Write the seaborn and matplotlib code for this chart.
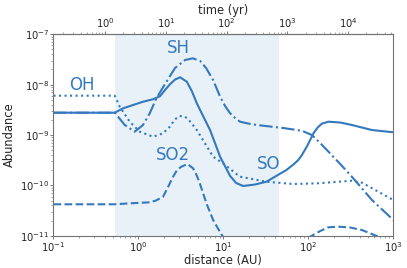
import numpy as np
import matplotlib
matplotlib.use("Agg")
import matplotlib.pyplot as plt
import matplotlib.ticker as mticker
import seaborn as sns

# values, stored as log10(distance AU), log10(abundance)
so_logd = [-1.0, -0.279, -0.181, 0.054, 0.172, 0.254, 0.313, 0.372, 0.430, 0.490,
           0.569, 0.628, 0.687, 0.760, 0.843, 0.961, 1.079, 1.150, 1.232, 1.373,
           1.506, 1.742, 1.821, 1.880, 1.923, 1.986, 2.060, 2.110, 2.159, 2.237,
           2.375, 2.512, 2.748, 3.0]
so_loga = [-8.557, -8.557, -8.470, -8.339, -8.290, -8.230, -8.106, -7.990, -7.900, -7.854,
           -7.941, -8.126, -8.370, -8.620, -8.901, -9.431, -9.814, -9.953, -10.013, -9.983,
           -9.928, -9.695, -9.590, -9.500, -9.400, -9.218, -8.966, -8.850, -8.775, -8.736,
           -8.752, -8.801, -8.901, -8.946]

sh_logd = [-1.0, -0.279, -0.240, -0.161, -0.044, 0.054, 0.133, 0.211, 0.313, 0.431,
           0.549, 0.640, 0.726, 0.796, 0.879, 0.961, 1.020, 1.079, 1.138, 1.197,
           1.291, 1.393, 1.703, 1.923, 2.041, 2.139, 2.237, 2.375, 2.512, 2.748, 3.0]
sh_loga = [-8.557, -8.557, -8.637, -8.801, -8.934, -8.801, -8.569, -8.271, -7.987, -7.669,
           -7.510, -7.477, -7.529, -7.669, -7.908, -8.239, -8.424, -8.569, -8.662, -8.736,
           -8.772, -8.801, -8.861, -8.915, -9.0, -9.159, -9.332, -9.576, -9.828, -10.291, -10.688]

oh_logd = [-1.0, -0.279, -0.220, -0.102, 0.015, 0.172, 0.290, 0.369, 0.430, 0.482,
           0.540, 0.584, 0.687, 0.879, 0.996, 1.193, 1.506, 1.821, 2.115, 2.512,
           2.630, 2.787, 3.0]
oh_loga = [-8.219, -8.219, -8.438, -8.736, -8.934, -9.034, -8.966, -8.835, -8.690, -8.623,
           -8.630, -8.682, -8.901, -9.431, -9.562, -9.828, -9.928, -9.973, -9.959, -9.908,
           -9.947, -10.092, -10.291]

so2_logd = [-1.0, -0.279, -0.099, 0.133, 0.207, 0.290, 0.349, 0.408, 0.455, 0.505,
            0.576, 0.643, 0.684, 0.722, 0.800, 0.879, 0.958, 1.032, 1.3, 1.8,
            1.95, 2.021, 2.139, 2.237, 2.355, 2.492, 2.630, 2.826, 3.0]
so2_loga = [-10.376, -10.376, -10.357, -10.337, -10.301, -10.225, -10.030, -9.828, -9.695, -9.630,
            -9.576, -9.661, -9.795, -9.959, -10.357, -10.688, -10.920, -11.125, -11.8, -11.8,
            -11.3, -11.02, -10.907, -10.833, -10.821, -10.837, -10.887, -11.02, -11.125]

labels = ["SO", "SH", "OH", "SO2"]
label_pos = [(34.3, 2.68e-10), (2.95, 5.3e-8), (0.217, 1.0e-8), (2.58, 4.05e-10)]
shade_range = (0.526, 45.7)
dist_ticks = [0.1, 1, 10, 100, 1000]
abund_ticks = [1e-11, 1e-10, 1e-9, 1e-8, 1e-7]
time_ticks = [1, 10, 100, 1000, 10000]

line_color = "#3479bd"

sns.set_style("ticks")
plt.rcParams["font.family"] = ["DejaVu Sans"]
plt.rcParams["mathtext.fontset"] = "dejavusans"

fig = plt.figure(figsize=(4.07, 2.68), dpi=100)
ax = fig.add_axes([0.1314, 0.1205, 0.835, 0.7515])
ax.set_xscale("log")
ax.set_yscale("log")

ax.axvspan(*shade_range, color="tab:blue", alpha=0.1, lw=0)

series = [(so_logd, so_loga, "-"), (sh_logd, sh_loga, "-."),
          (oh_logd, oh_loga, ":"), (so2_logd, so2_loga, "--")]
for logd, loga, ls in series:
    sns.lineplot(x=10 ** np.array(logd), y=10 ** np.array(loga), ax=ax,
                 color=line_color, lw=1.5, linestyle=ls, sort=False)

for lab, (px, py) in zip(labels, label_pos):
    ax.text(px, py, lab, color=line_color, fontsize=12, ha="center", va="center")

ax.set_xticks(dist_ticks)
ax.set_yticks(abund_ticks)
ax.set_xlim(0.1, 1000)
ax.set_ylim(1e-11, 1e-7)
ax.set_xlabel("distance (AU)", fontsize=8.3, labelpad=0)
ax.set_ylabel("Abundance", fontsize=8.3, labelpad=3)
ax.tick_params(labelsize=7.2, length=2, width=0.6, color="0.4", pad=1)
ax.tick_params(which="minor", length=1.2, width=0.5, color="0.5")
ax.xaxis.set_minor_formatter(mticker.NullFormatter())
ax.yaxis.set_minor_formatter(mticker.NullFormatter())

# time axis on top
b, d0 = 1.398, 10 ** -0.393
secax = ax.secondary_xaxis("top", functions=(lambda d: (np.abs(d) / d0) ** b,
                                              lambda t: d0 * np.abs(t) ** (1 / b)))
secax.set_xticks(time_ticks)
secax.xaxis.set_major_formatter(mticker.LogFormatterSciNotation())
secax.xaxis.set_minor_formatter(mticker.NullFormatter())
secax.set_xlabel("time (yr)", fontsize=8.3, labelpad=2)
secax.tick_params(labelsize=7.2, length=2, width=0.6, color="0.4", pad=1)
secax.tick_params(which="minor", length=1.2, width=0.5, color="0.5")

for sp in ax.spines.values():
    sp.set_color("0.45")
    sp.set_linewidth(0.8)
secax.spines["top"].set_color("0.45")
secax.spines["top"].set_linewidth(0.8)

fig.savefig("out.png", dpi=100)
